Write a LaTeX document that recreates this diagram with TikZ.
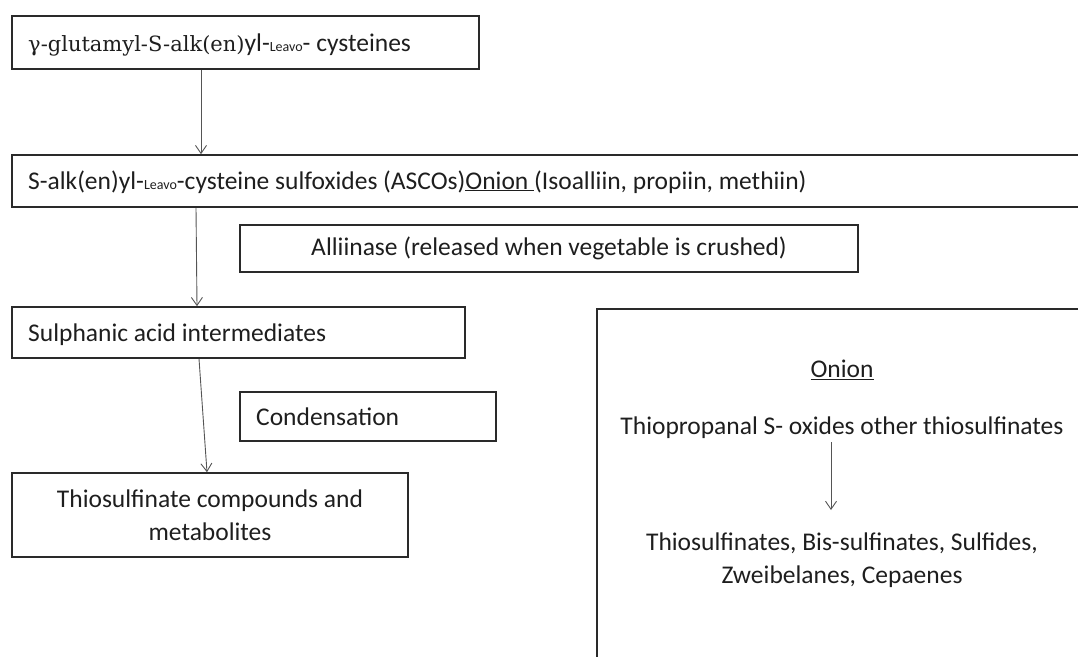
\documentclass[tikz,border=0pt]{standalone}
\usepackage{fontspec}
\setmainfont{Carlito}
\newfontfamily\serifpart{DejaVu Serif}
\usetikzlibrary{arrows.meta}
\definecolor{txt}{HTML}{1E1E1E}
\definecolor{edge}{HTML}{2A2A2A}
\definecolor{arr}{HTML}{555555}
\newcommand{\leavo}{{\fontsize{14}{14}\selectfont Leavo}}
\tikzset{
  box/.style={draw=edge, line width=1.6pt, rectangle, inner sep=0pt, text=txt,
    font=\fontsize{25.5}{33}\selectfont},
  plain/.style={inner sep=0pt, text=txt, font=\fontsize{25.5}{33}\selectfont},
  flow/.style={draw=arr, line width=0.9pt, -{Straight Barb[length=8pt,width=11pt,line width=0.9pt]}}
}
\begin{document}
\begin{tikzpicture}[x=1pt,y=-1pt]
\useasboundingbox (0,0) rectangle (1078,656);
% boxes
\node[box, minimum width=467pt, minimum height=53pt] (b1) at (245.5,42.5) {};
\node[plain, anchor=base west] (t1) at (28,51) {{\serifpart\fontsize{21}{33}\selectfont γ-glutamyl-S-alk(en)}yl-\leavo- cysteines};
\node[box, minimum width=1080pt, minimum height=52pt] (b2) at (552,181) {};
\node[plain, anchor=base west] (t2) at (28,189) {S-alk(en)yl-\leavo-cysteine sulfoxides (ASCOs)\underline{Onion\ }(Isoalliin, propiin, methiin)};
\node[box, minimum width=618pt, minimum height=47pt] (b5) at (549,248.5) {Alliinase (released when vegetable is crushed)};
\node[box, minimum width=453pt, minimum height=51pt] (b3) at (238.5,332.5) {};
\node[plain, anchor=base west] (t3) at (28,341) {Sulphanic acid intermediates};
\node[box, minimum width=256pt, minimum height=49pt] (b6) at (368,416.5) {};
\node[plain, anchor=base west] (t6) at (256,425) {Condensation};
\node[box, minimum width=396pt, minimum height=84pt, align=center] (b4) at (210,515) {Thiosulfinate compounds and\\metabolites};
% right box
\node[box, minimum width=500pt, minimum height=370pt, anchor=north west] (b7) at (596,308) {};
\node[plain] (r1) at (842,370) {\underline{Onion}};
\node[plain] (r2) at (842,428) {Thiopropanal S- oxides other thiosulfinates};
\node[plain, align=center] (r3) at (842,560) {Thiosulfinates, Bis-sulfinates, Sulfides,\\Zweibelanes, Cepaenes};
% arrows
\draw[flow] (b1.south -| 201,0) -- (b2.north -| 201,0);
\draw[flow] (b2.south -| 196,0) -- (b3.north -| 197,0);
\draw[flow] (b3.south -| 199,0) -- (b4.north -| 207,0);
\draw[flow] (831,442) coordinate (a1) -- (831,510) coordinate (a2);
\end{tikzpicture}
\end{document}
